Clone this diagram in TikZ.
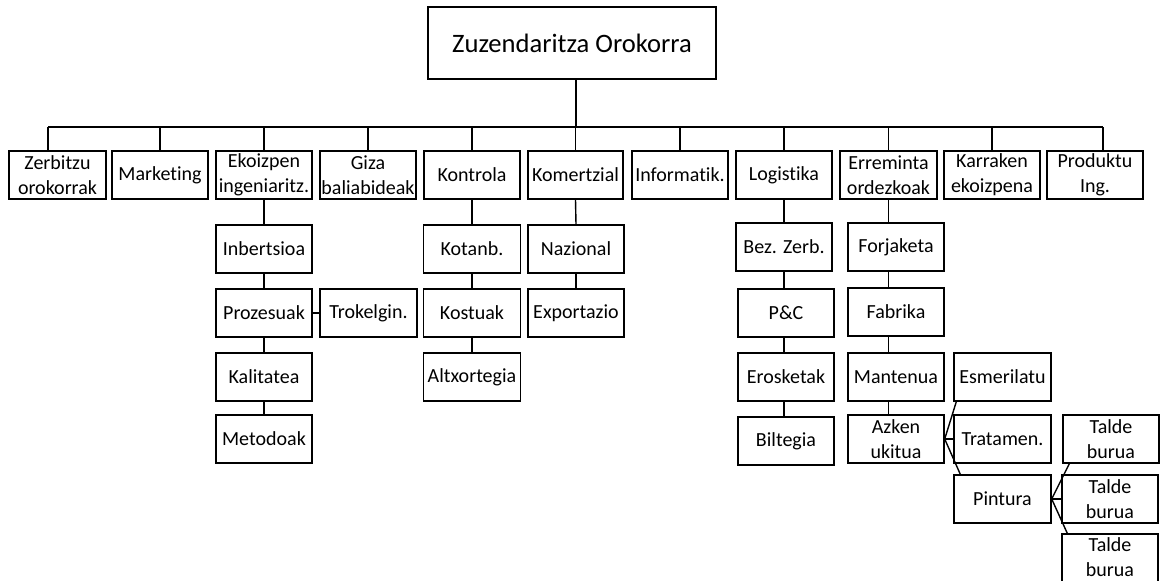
\documentclass[tikz,border=0pt]{standalone}
\usepackage{fontspec}
\setmainfont{Carlito}[Ligatures=NoCommon]
\begin{document}
\begin{tikzpicture}[x=1pt,y=-1pt,
  box/.style={draw=black, line width=1.4pt, fill=white, inner sep=0pt,
    minimum width=96pt, minimum height=48pt, align=center,
    font=\fontsize{20}{25}\selectfont},
  topbox/.style={box, minimum width=288pt, minimum height=72pt,
    font=\fontsize{26.6}{32}\selectfont},
  link/.style={draw=black, line width=1.4pt}]
\useasboundingbox (0,0) rectangle (1160,581);

% top
\node[topbox] (top) at (572,43) {Zuzendaritza Orokorra};

% level 1
\node[box, minimum width=97pt] (zerb) at (57.5,175) {Zerbitzu\\orokorrak};
\node[box] (mark) at (160,175) {Marketing};
\node[box] (ekoiz) at (264,175) {Ekoizpen\\ingeniaritz.};
\node[box] (giza) at (368,175) {Giza\\baliabideak};
\node[box] (kontr) at (472,175) {Kontrola};
\node[box, minimum width=95pt] (komer) at (575.5,175) {Komertzial};
\node[box] (infor) at (680,175) {Informatik.};
\node[box] (logis) at (784,175) {Logistika};
\node[box, minimum width=97pt] (errem) at (888.5,175) {Erreminta\\ordezkoak};
\node[box] (karr) at (992,175) {Karraken\\ekoizpena};
\node[box] (prod) at (1095,175) {Produktu\\Ing.};

% Ekoizpen column
\node[box] (inb) at (264,249) {Inbertsioa};
\node[box] (proz) at (264,313) {Prozesuak};
\node[box] (kal) at (264,377) {Kalitatea};
\node[box] (met) at (264,439) {Metodoak};
\node[box, minimum width=97pt] (trok) at (368.5,313) {Trokelgin.};

% Kontrola column
\node[box, minimum width=97pt] (kot) at (472,249) {Kotanb.};
\node[box, minimum width=97pt] (kos) at (472,313) {Kostuak};
\node[box, minimum width=97pt] (alt) at (472,377) {Altxortegia};

% Komertzial column
\node[box] (naz) at (576,249) {Nazional};
\node[box] (expo) at (576,313) {Exportazio};

% Logistika column
\node[box] (bez) at (784,247) {Bez. Zerb.};
\node[box] (pc) at (786,313) {P\&C};
\node[box] (eros) at (786,377) {Erosketak};
\node[box] (bilt) at (786,441) {Biltegia};

% Erreminta column
\node[box] (forj) at (896,247) {Forjaketa};
\node[box] (fabr) at (896,312) {Fabrika};
\node[box] (mant) at (896,377) {Mantenua};
\node[box] (azk) at (896,439) {Azken\\ukitua};
\node[box, minimum width=97pt] (esm) at (1002.5,377) {Esmerilatu};
\node[box, minimum width=97pt] (trat) at (1002.5,439) {Tratamen.};
\node[box, minimum width=97pt] (pint) at (1002.5,499) {Pintura};
\node[box] (tb1) at (1111,439) {Talde\\burua};
\node[box] (tb2) at (1110,499) {Talde\\burua};
\node[box] (tb3) at (1110,559) {\raisebox{3pt}{\begin{tabular}{@{}c@{}}Talde\\burua\end{tabular}}};

% bus
\coordinate (bus) at (576,127);
\draw[link] ([xshift=4pt]top.south) -- ([xshift=4pt]top.south |- bus);
\draw[link] ([xshift=-9.5pt]zerb.north |- bus) -- ([xshift=8pt]prod.north |- bus);
\draw[link] ([xshift=-9.5pt]zerb.north) -- ([xshift=-9.5pt]zerb.north |- bus);
\draw[link] ([xshift=8pt]prod.north) -- ([xshift=8pt]prod.north |- bus);
\foreach \n in {mark,ekoiz,giza,kontr,komer,infor,logis,errem,karr}
  \draw[link] (\n.north) -- (\n.north |- bus);

% Ekoizpen
\draw[link] (ekoiz.south) -- (inb.north);
\draw[link] (inb.south) -- (proz.north);
\draw[link] (proz.south) -- (kal.north);
\draw[link] (kal.south) -- (met.north);
\draw[link] (proz.east) -- (trok.west);

% Kontrola
\draw[link] (kontr.south) -- (kot.north);
\draw[link] (kot.south) -- (kos.north);
\draw[link] (kos.south) -- (alt.north);

% Komertzial
\draw[link] (komer.south) -- (naz.north);
\draw[link] (naz.south) -- (expo.north);

% Logistika
\draw[link] (logis.south) -- (logis.south |- bez.north);
\draw[link] (logis.south |- bez.south) -- (logis.south |- pc.north);
\draw[link] (logis.south |- pc.south) -- (logis.south |- eros.north);
\draw[link] (logis.south |- eros.south) -- (logis.south |- bilt.north);

% Erreminta
\draw[link] (errem.south) -- (errem.south |- forj.north);
\draw[link] (errem.south |- forj.south) -- (errem.south |- fabr.north);
\draw[link] (errem.south |- fabr.south) -- (errem.south |- mant.north);
\draw[link] (errem.south |- mant.south) -- (errem.south |- azk.north);

% Azken ukitua fan
\draw[link] (azk.east) -- ([xshift=3pt]esm.south west);
\draw[link] (azk.east) -- (trat.west);
\draw[link] (azk.east) -- ([xshift=7pt]pint.north west);

% Pintura fan
\draw[link] (pint.east) -- ([xshift=7pt]tb1.south west);
\draw[link] (pint.east) -- (tb2.west);
\draw[link] (pint.east) -- ([xshift=6pt]tb3.north west);
\end{tikzpicture}
\end{document}
